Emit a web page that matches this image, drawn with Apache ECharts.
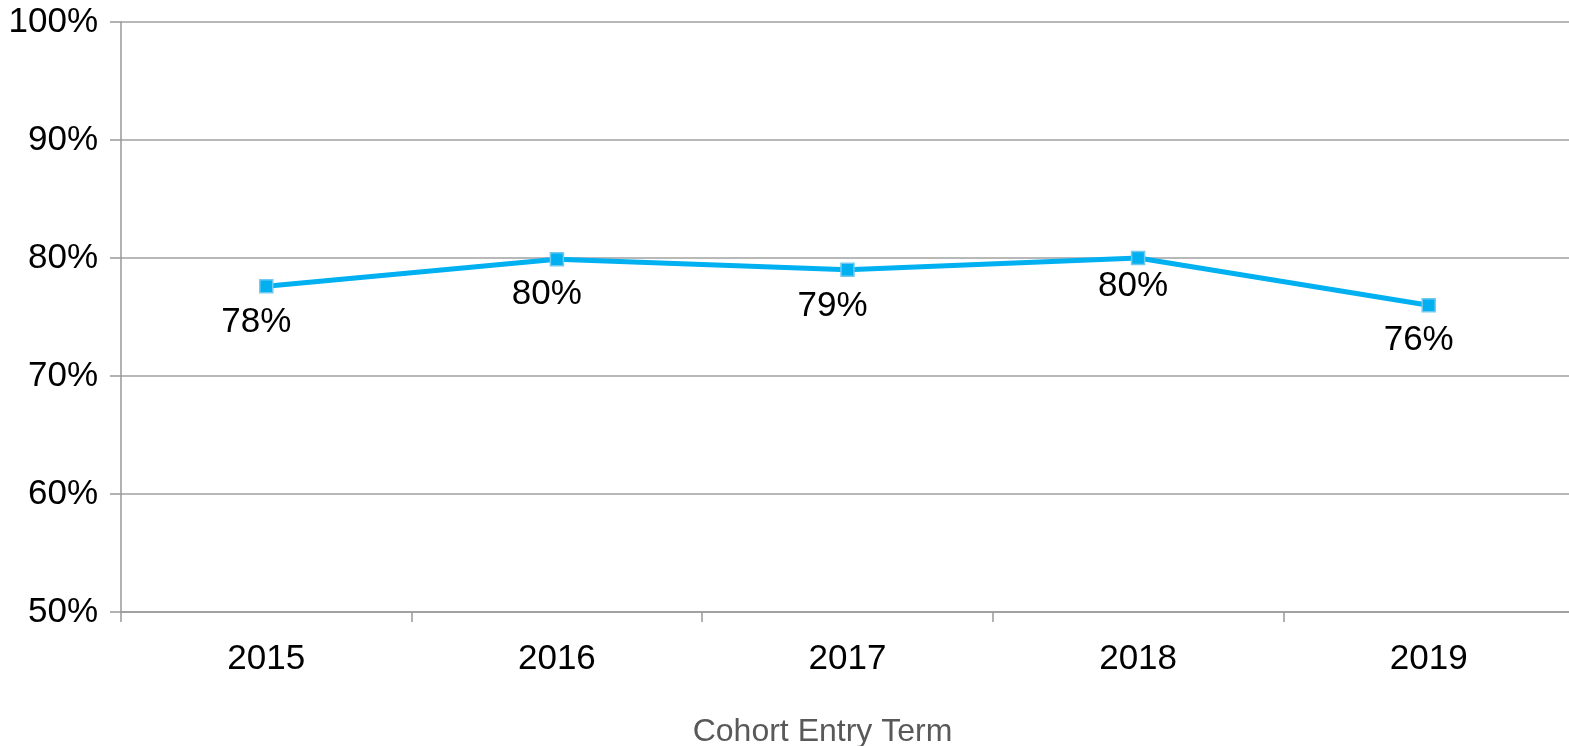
<!DOCTYPE html>
<html>
<head>
<meta charset="utf-8">
<script src="https://cdn.jsdelivr.net/npm/echarts@6/dist/echarts.min.js"></script>
<style>
html,body{margin:0;padding:0;background:#fff;overflow:hidden;}
#c{width:1590px;height:760px;}
</style>
</head>
<body>
<div id="c"></div>
<script>
const categories = ['2015', '2016', '2017', '2018', '2019'];
const rateValues = [77.6, 79.9, 79.0, 80.0, 76.0];
const yTicks = { min: 50, max: 100, interval: 10 };
const xAxisTitle = 'Cohort Entry Term';

// label placement nudges (style only)
const labelNudge = [[-10, 0], [-10, -1], [-15, 1], [-5, -7], [-10, -1]];

const FONT = '"Liberation Sans", Arial, sans-serif';
const seriesData = rateValues.map((v, i) => ({
  value: v,
  label: { offset: labelNudge[i] }
}));

const chart = echarts.init(document.getElementById('c'), null, { renderer: 'canvas' });
chart.setOption({
  animation: false,
  grid: { left: 121, right: 16, top: 22, bottom: 148, containLabel: false },
  xAxis: {
    type: 'category',
    data: categories,
    boundaryGap: true,
    name: xAxisTitle,
    nameLocation: 'middle',
    nameGap: 104,
    nameTextStyle: { fontFamily: FONT, fontSize: 32, color: '#595959', padding: [0, 50, 0, 0] },
    axisLine: { lineStyle: { color: '#999999', width: 1.5 } },
    axisTick: { show: true, length: 10, lineStyle: { color: '#999999', width: 1.5 } },
    axisLabel: { fontFamily: FONT, fontSize: 35, color: '#000', margin: 30 },
    splitLine: { show: false }
  },
  yAxis: {
    type: 'value',
    min: yTicks.min,
    max: yTicks.max,
    interval: yTicks.interval,
    axisLine: { show: true, lineStyle: { color: '#999999', width: 1.5 } },
    axisTick: { show: true, length: 11, lineStyle: { color: '#999999', width: 1.5 } },
    axisLabel: { fontFamily: FONT, fontSize: 35, color: '#000', margin: 23, formatter: '{value}%' },
    splitLine: { show: true, lineStyle: { color: '#a0a0a0', width: 1.5 } }
  },
  series: [{
    type: 'line',
    data: seriesData,
    symbol: 'rect',
    symbolSize: 13,
    lineStyle: { color: '#00b0f0', width: 5 },
    itemStyle: { color: '#00b0f0', borderColor: '#72c9ef', borderWidth: 1.5 },
    label: {
      show: true,
      position: 'bottom',
      distance: 11,
      fontFamily: FONT,
      fontSize: 35,
      color: '#000',
      formatter: p => Math.round(p.value) + '%'
    },
    z: 3
  }]
});
</script>
</body>
</html>
